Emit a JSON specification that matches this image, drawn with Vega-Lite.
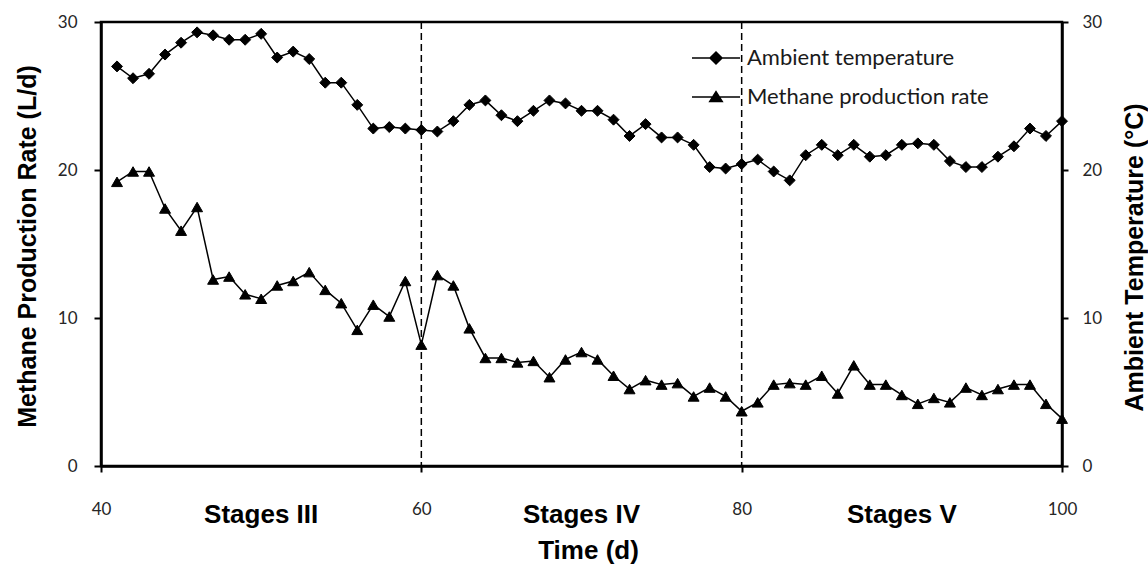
{
  "$schema": "https://vega.github.io/schema/vega-lite/v6.json",
  "width": 961,
  "height": 444,
  "autosize": {"type": "none"},
  "padding": {"left": 101, "top": 22, "right": 86, "bottom": 101},
  "background": "#ffffff",
  "config": {
    "view": {"stroke": "#000000", "strokeWidth": 2.5},
    "axis": {"grid": false},
    "legend": {
      "orient": "none",
      "legendX": 602,
      "legendY": 23,
      "padding": 0,
      "symbolSize": 576,
      "symbolFillColor": "#000000",
      "symbolStrokeColor": "#000000",
      "symbolStrokeWidth": 1.5,
      "symbolOpacity": 1,
      "labelFont": "Lato",
      "labelFontSize": 22,
      "labelColor": "#1a1a1a",
      "labelLimit": 500,
      "labelOffset": 18,
      "rowPadding": 15
    }
  },
  "datasets": {
    "series": [
      {"day": 41, "methane": 19.2, "temperature": 27.0},
      {"day": 42, "methane": 19.9, "temperature": 26.2},
      {"day": 43, "methane": 19.9, "temperature": 26.5},
      {"day": 44, "methane": 17.4, "temperature": 27.8},
      {"day": 45, "methane": 15.9, "temperature": 28.6},
      {"day": 46, "methane": 17.5, "temperature": 29.3},
      {"day": 47, "methane": 12.6, "temperature": 29.1},
      {"day": 48, "methane": 12.8, "temperature": 28.8},
      {"day": 49, "methane": 11.6, "temperature": 28.8},
      {"day": 50, "methane": 11.3, "temperature": 29.2},
      {"day": 51, "methane": 12.2, "temperature": 27.6},
      {"day": 52, "methane": 12.5, "temperature": 28.0},
      {"day": 53, "methane": 13.1, "temperature": 27.5},
      {"day": 54, "methane": 11.9, "temperature": 25.9},
      {"day": 55, "methane": 11.0, "temperature": 25.9},
      {"day": 56, "methane": 9.2, "temperature": 24.4},
      {"day": 57, "methane": 10.9, "temperature": 22.8},
      {"day": 58, "methane": 10.1, "temperature": 22.9},
      {"day": 59, "methane": 12.5, "temperature": 22.8},
      {"day": 60, "methane": 8.2, "temperature": 22.7},
      {"day": 61, "methane": 12.9, "temperature": 22.6},
      {"day": 62, "methane": 12.2, "temperature": 23.3},
      {"day": 63, "methane": 9.3, "temperature": 24.4},
      {"day": 64, "methane": 7.3, "temperature": 24.7},
      {"day": 65, "methane": 7.3, "temperature": 23.7},
      {"day": 66, "methane": 7.0, "temperature": 23.3},
      {"day": 67, "methane": 7.1, "temperature": 24.0},
      {"day": 68, "methane": 6.0, "temperature": 24.7},
      {"day": 69, "methane": 7.2, "temperature": 24.5},
      {"day": 70, "methane": 7.7, "temperature": 24.0},
      {"day": 71, "methane": 7.2, "temperature": 24.0},
      {"day": 72, "methane": 6.1, "temperature": 23.4},
      {"day": 73, "methane": 5.2, "temperature": 22.3},
      {"day": 74, "methane": 5.8, "temperature": 23.1},
      {"day": 75, "methane": 5.5, "temperature": 22.2},
      {"day": 76, "methane": 5.6, "temperature": 22.2},
      {"day": 77, "methane": 4.7, "temperature": 21.7},
      {"day": 78, "methane": 5.3, "temperature": 20.2},
      {"day": 79, "methane": 4.7, "temperature": 20.1},
      {"day": 80, "methane": 3.7, "temperature": 20.4},
      {"day": 81, "methane": 4.3, "temperature": 20.7},
      {"day": 82, "methane": 5.5, "temperature": 19.9},
      {"day": 83, "methane": 5.6, "temperature": 19.3},
      {"day": 84, "methane": 5.5, "temperature": 21.0},
      {"day": 85, "methane": 6.1, "temperature": 21.7},
      {"day": 86, "methane": 4.9, "temperature": 21.0},
      {"day": 87, "methane": 6.8, "temperature": 21.7},
      {"day": 88, "methane": 5.5, "temperature": 20.9},
      {"day": 89, "methane": 5.5, "temperature": 21.0},
      {"day": 90, "methane": 4.8, "temperature": 21.7},
      {"day": 91, "methane": 4.2, "temperature": 21.8},
      {"day": 92, "methane": 4.6, "temperature": 21.7},
      {"day": 93, "methane": 4.3, "temperature": 20.6},
      {"day": 94, "methane": 5.3, "temperature": 20.2},
      {"day": 95, "methane": 4.8, "temperature": 20.2},
      {"day": 96, "methane": 5.2, "temperature": 20.9},
      {"day": 97, "methane": 5.5, "temperature": 21.6},
      {"day": 98, "methane": 5.5, "temperature": 22.8},
      {"day": 99, "methane": 4.2, "temperature": 22.3},
      {"day": 100, "methane": 3.2, "temperature": 23.3}
    ],
    "boundaries": [
      {"boundary": 60},
      {"boundary": 80}
    ],
    "stages": [
      {"stage_day": 50, "stage": "Stages III"},
      {"stage_day": 70, "stage": "Stages IV"},
      {"stage_day": 90, "stage": "Stages V"}
    ]
  },
  "layer": [
    {
      "data": {"name": "boundaries"},
      "mark": {"type": "rule", "color": "#000000", "strokeWidth": 1.5, "strokeDash": [7, 4]},
      "encoding": {
        "x": {
          "field": "boundary",
          "type": "quantitative",
          "scale": {"domain": [40, 100], "nice": false, "zero": false},
          "title": "Time (d)",
          "axis": {
            "values": [40, 60, 80, 100],
            "grid": false,
            "title": "Time (d)",
            "titleFont": "Liberation Sans",
            "titleFontWeight": "bold",
            "titleFontSize": 26,
            "titleColor": "#000000",
            "titleX": 487,
            "titleY": 92,
            "titleAlign": "center",
            "titleBaseline": "alphabetic",
            "labelFont": "Lato",
            "labelFontSize": 17,
            "labelColor": "#262626",
            "labelPadding": 29,
            "labelFlush": false,
            "tickSize": 6,
            "tickWidth": 2,
            "tickColor": "#000000",
            "domainColor": "#000000",
            "domainWidth": 2.5
          }
        }
      }
    },
    {
      "layer": [
        {
          "data": {"name": "series"},
          "encoding": {
            "x": {"field": "day", "type": "quantitative", "title": "Time (d)"},
            "y": {
              "field": "methane",
              "type": "quantitative",
              "scale": {"domain": [0, 30], "nice": false},
              "title": "Methane Production Rate (L/d)",
              "axis": {
                "orient": "left",
                "values": [0, 10, 20, 30],
                "grid": false,
                "title": "Methane Production Rate (L/d)",
                "titleFont": "Liberation Sans",
                "titleFontWeight": "bold",
                "titleFontSize": 25,
                "titleColor": "#000000",
                "titleAngle": 270,
                "titleX": -66,
                "titleY": 224,
                "titleAlign": "center",
                "titleBaseline": "alphabetic",
                "labelFont": "Lato",
                "labelFontSize": 17,
                "labelColor": "#262626",
                "labelPadding": 17,
                "tickSize": 7,
                "tickWidth": 2,
                "tickColor": "#000000",
                "domainColor": "#000000",
                "domainWidth": 2.5
              }
            }
          },
          "layer": [
            {"mark": {"type": "line", "color": "#000000", "strokeWidth": 1.5}},
            {
              "mark": {
                "type": "point",
                "filled": false,
                "fill": "#000000",
                "strokeWidth": 1,
                "opacity": 1,
                "size": 120,
                "shape": {"expr": "isValid(datum.label) ? (datum.value === 'Ambient temperature' ? 'M0,-0.5L0.5,0L0,0.5L-0.5,0ZM-2,0L2,0' : 'M0,-0.45L0.52,0.38L-0.52,0.38ZM-2,0L2,0') : 'triangle-up'"}
              },
              "encoding": {
                "color": {
                  "datum": "Methane production rate",
                  "scale": {
                    "domain": ["Ambient temperature", "Methane production rate"],
                    "range": ["#000000", "#000000"]
                  },
                  "legend": {"title": null}
                }
              }
            }
          ]
        },
        {
          "data": {"name": "stages"},
          "mark": {"type": "text", "font": "Liberation Sans", "fontWeight": "bold", "fontSize": 26, "color": "#000000", "align": "center", "baseline": "alphabetic"},
          "encoding": {
            "x": {"field": "stage_day", "type": "quantitative", "title": "Time (d)"},
            "y": {"datum": -3.85, "type": "quantitative", "title": "Methane Production Rate (L/d)"},
            "text": {"field": "stage", "type": "nominal"}
          }
        }
      ]
    },
    {
      "data": {"name": "series"},
      "encoding": {
        "x": {"field": "day", "type": "quantitative", "title": "Time (d)"},
        "y": {
          "field": "temperature",
          "type": "quantitative",
          "scale": {"domain": [0, 30], "nice": false},
          "title": "Ambient Temperature (°C)",
          "axis": {
            "orient": "right",
            "values": [0, 10, 20, 30],
            "grid": false,
            "title": "Ambient Temperature (°C)",
            "titleFont": "Liberation Sans",
            "titleFontWeight": "bold",
            "titleFontSize": 25,
            "titleColor": "#000000",
            "titleAngle": 270,
            "titleX": 80,
            "titleY": 235,
            "titleAlign": "center",
            "titleBaseline": "alphabetic",
            "labelFont": "Lato",
            "labelFontSize": 17,
            "labelColor": "#262626",
            "labelPadding": 14,
            "tickSize": 6,
            "tickWidth": 2,
            "tickColor": "#000000",
            "domainColor": "#000000",
            "domainWidth": 2.5
          }
        }
      },
      "layer": [
        {"mark": {"type": "line", "color": "#000000", "strokeWidth": 1.5}},
        {
          "mark": {
            "type": "point",
            "filled": false,
            "fill": "#000000",
            "strokeWidth": 1,
            "opacity": 1,
            "size": 120,
            "shape": {"expr": "isValid(datum.label) ? (datum.value === 'Ambient temperature' ? 'M0,-0.5L0.5,0L0,0.5L-0.5,0ZM-2,0L2,0' : 'M0,-0.45L0.52,0.38L-0.52,0.38ZM-2,0L2,0') : 'diamond'"}
          },
          "encoding": {
            "color": {"datum": "Ambient temperature", "legend": {"title": null}}
          }
        }
      ]
    }
  ],
  "resolve": {"scale": {"y": "independent"}}
}
